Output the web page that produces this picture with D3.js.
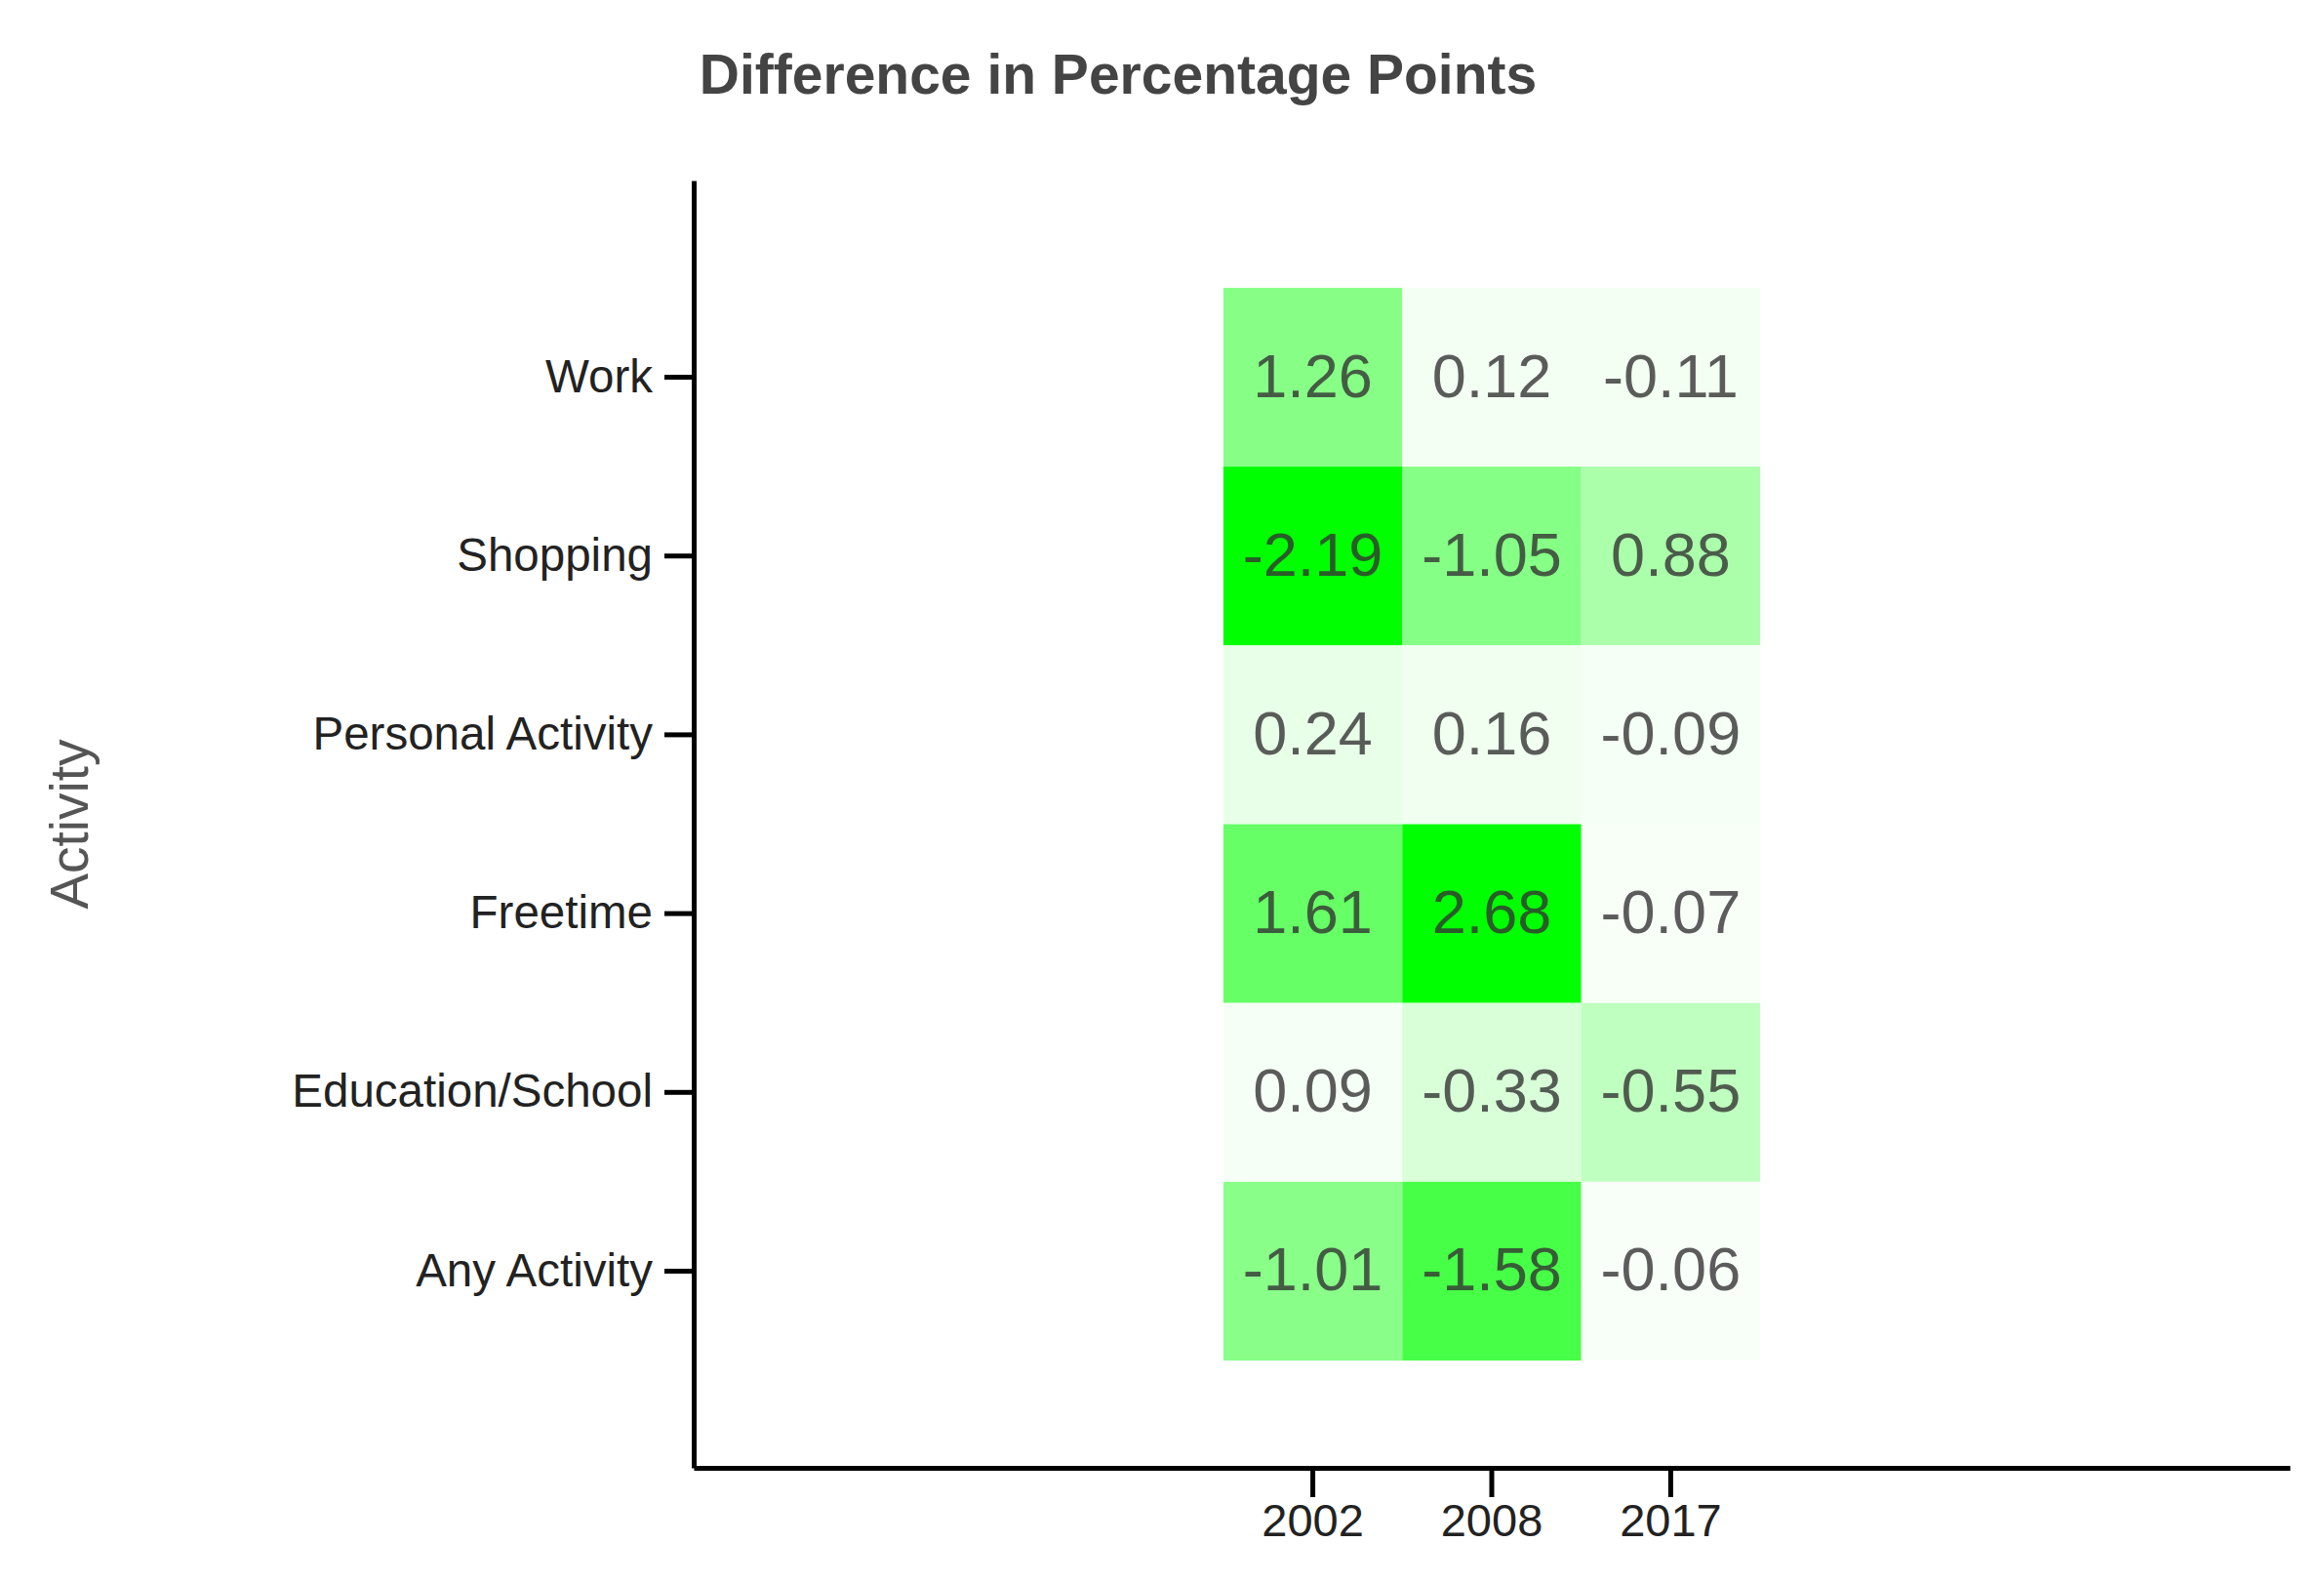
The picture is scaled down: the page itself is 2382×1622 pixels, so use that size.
<!DOCTYPE html>
<html>
<head>
<meta charset="utf-8">
<script src="https://cdn.jsdelivr.net/npm/d3@7"></script>
<style>
  html, body { margin: 0; padding: 0; background: #fff; }
  svg { display: block; font-family: "Liberation Sans", Arial, sans-serif; }
</style>
</head>
<body>
<svg id="chart" width="2382" height="1622"></svg>
<script>
const years = ["2002", "2008", "2017"];
const activities = ["Work", "Shopping", "Personal Activity", "Freetime", "Education/School", "Any Activity"];
const values2002 = [1.26, -2.19, 0.24, 1.61, 0.09, -1.01];
const values2008 = [0.12, -1.05, 0.16, 2.68, -0.33, -1.58];
const values2017 = [-0.11, 0.88, -0.09, -0.07, -0.55, -0.06];
const titleText = "Difference in Percentage Points";
const yTitle = "Activity";

const seriesByYear = { "2002": values2002, "2008": values2008, "2017": values2017 };
const cells = [];
years.forEach(yr => activities.forEach((act, i) => cells.push({ year: yr, activity: act, value: seriesByYear[yr][i] })));

const svg = d3.select("#chart");
const W = 2382, H = 1622;
const margin = { top: 185, right: 35, bottom: 118, left: 711 };
const iw = W - margin.left - margin.right;
const ih = H - margin.top - margin.bottom;

const g = svg.append("g").attr("transform", `translate(${margin.left},${margin.top})`);

const x = d3.scaleBand().domain(years).range([0, iw]).paddingInner(0).paddingOuter(2.96);
const y = d3.scaleBand().domain(activities).range([0, ih]).paddingInner(0).paddingOuter(0.6);

const vmin = d3.min(cells, d => d.value);
const vmax = d3.max(cells, d => d.value);
const color = d3.scaleLinear().domain([vmin, 0, vmax]).range(["#00ff00", "#ffffff", "#00ff00"]).interpolate(d3.interpolateRgb);

g.selectAll("rect.cell").data(cells).join("rect")
  .attr("class", "cell")
  .attr("x", d => x(d.year))
  .attr("y", d => y(d.activity))
  .attr("width", x.bandwidth())
  .attr("height", y.bandwidth())
  .attr("fill", d => color(d.value));

g.selectAll("text.val").data(cells).join("text")
  .attr("class", "val")
  .attr("x", d => x(d.year) + x.bandwidth() / 2)
  .attr("y", d => y(d.activity) + y.bandwidth() / 2 - 2)
  .attr("text-anchor", "middle")
  .attr("dominant-baseline", "central")
  .attr("font-size", 63)
  .attr("fill", "#333")
  .attr("fill-opacity", 0.8)
  .text(d => d.value.toFixed(2));

const xAxis = g.append("g").attr("transform", `translate(0,${ih})`)
  .call(d3.axisBottom(x).tickSizeInner(30).tickSizeOuter(0).tickPadding(7));
const yAxis = g.append("g")
  .call(d3.axisLeft(y).tickSizeInner(30).tickSizeOuter(0).tickPadding(12));

[xAxis, yAxis].forEach(ax => {
  ax.select(".domain").attr("stroke", "#000").attr("stroke-width", 5);
  ax.selectAll(".tick line").attr("stroke", "#000").attr("stroke-width", 5);
  ax.selectAll(".tick text").attr("fill", "#222").attr("font-family", "'Liberation Sans', Arial, sans-serif");
});
xAxis.selectAll(".tick text").attr("font-size", 47);
yAxis.selectAll(".tick text").attr("font-size", 47.5);

svg.append("text")
  .attr("x", 1146)
  .attr("y", 96)
  .attr("text-anchor", "middle")
  .attr("font-size", 57)
  .attr("font-weight", "bold")
  .attr("fill", "#444")
  .text(titleText);

svg.append("text")
  .attr("transform", `translate(90,${margin.top + ih / 2}) rotate(-90)`)
  .attr("text-anchor", "middle")
  .attr("font-size", 55)
  .attr("fill", "#555")
  .text(yTitle);
</script>
</body>
</html>
